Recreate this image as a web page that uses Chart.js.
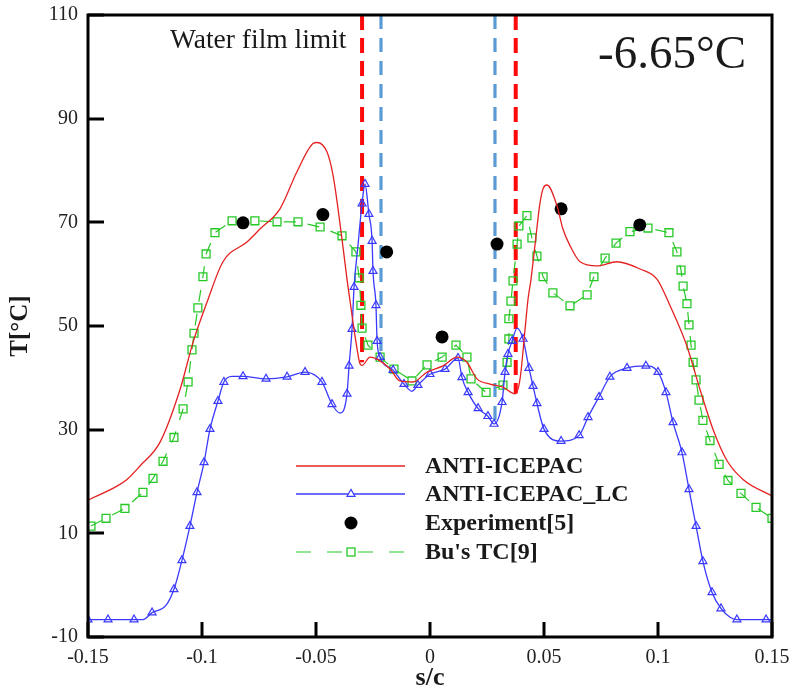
<!DOCTYPE html>
<html>
<head>
<meta charset="utf-8">
<script src="https://cdn.jsdelivr.net/npm/chart.js@4/dist/chart.umd.min.js"></script>
<style>
  html, body { margin: 0; padding: 0; background: #ffffff; }
  #wrap { width: 798px; height: 697px; }
</style>
</head>
<body>
<div id="wrap"><canvas id="c" width="798" height="697"></canvas></div>
<script>
// Axis ticks
const xTicks = [-0.15, -0.1, -0.05, 0, 0.05, 0.1, 0.15];
const xTickLabels = ['-0.15', '-0.1', '-0.05', '0', '0.05', '0.1', '0.15'];
const yTicks = [-10, 10, 30, 50, 70, 90, 110];
const yTickLabels = ['-10', '10', '30', '50', '70', '90', '110'];

// ANTI-ICEPAC
const redS = [-0.1500, -0.1373, -0.1329, -0.1272, -0.1184, -0.1096, -0.1039, -0.0978, -0.0908, -0.0803,
  -0.0746, -0.0658, -0.0583, -0.0513, -0.0496, -0.0452, -0.0425, -0.0386, -0.0364, -0.0338,
  -0.0320, -0.0307, -0.0298, -0.0263, -0.0232, -0.0175, -0.0132, -0.0075, -0.0013, 0.0057,
  0.0118, 0.0162, 0.0206, 0.0263, 0.0320, 0.0373, 0.0395, 0.0417, 0.0430, 0.0443,
  0.0461, 0.0482, 0.0496, 0.0513, 0.0557, 0.0583, 0.0614, 0.0658, 0.0732, 0.0820,
  0.0921, 0.0996, 0.1053, 0.1127, 0.1184, 0.1241, 0.1303, 0.1373, 0.1500];
const redT = [16.4, 19.1, 20.4, 23.0, 27.6, 37.8, 46.9, 54.6, 62.4, 66.2,
  68.7, 72.6, 79.8, 85.2, 85.4, 83.6, 79.0, 66.8, 59.0, 50.8,
  45.6, 42.7, 42.4, 44.0, 43.6, 41.7, 39.4, 39.2, 41.1, 42.3,
  44.0, 43.0, 39.8, 38.8, 38.2, 36.9, 39.8, 49.4, 55.2, 59.0,
  65.8, 73.6, 76.5, 77.2, 73.2, 68.7, 65.5, 62.4, 61.6, 62.4,
  61.0, 59.0, 53.9, 46.1, 37.8, 30.1, 24.0, 20.4, 17.2];

// ANTI-ICEPAC_LC (blueMark: 1 = sample drawn with a triangle)
const blueS = [-0.1500, -0.1412, -0.1298, -0.1259, -0.1219, -0.1158, -0.1123, -0.1088, -0.1053, -0.1022,
  -0.0991, -0.0965, -0.0930, -0.0904, -0.0868, -0.0820, -0.0719, -0.0627, -0.0548, -0.0474,
  -0.0430, -0.0395, -0.0364, -0.0355, -0.0342, -0.0333, -0.0316, -0.0298, -0.0285, -0.0268,
  -0.0254, -0.0250, -0.0237, -0.0232, -0.0219, -0.0162, -0.0114, -0.0079, -0.0053, 0.0000,
  0.0066, 0.0123, 0.0140, 0.0167, 0.0211, 0.0254, 0.0281, 0.0316, 0.0329, 0.0342,
  0.0360, 0.0382, 0.0408, 0.0434, 0.0452, 0.0469, 0.0500, 0.0575, 0.0654, 0.0693,
  0.0741, 0.0789, 0.0864, 0.0947, 0.1000, 0.1035, 0.1066, 0.1105, 0.1136, 0.1167,
  0.1197, 0.1237, 0.1276, 0.1316, 0.1346, 0.1474, 0.1500];
const blueT = [-6.65, -6.65, -6.65, -6.65, -5.3, -3.9, -0.8, 4.8, 11.4, 17.9,
  23.7, 30.1, 35.5, 39.2, 40.3, 40.3, 39.8, 40.2, 41.1, 39.2,
  34.9, 33.2, 36.9, 42.3, 49.4, 57.5, 65.5, 73.6, 77.4, 71.6,
  66.4, 60.6, 54.0, 47.1, 44.0, 41.5, 38.8, 37.4, 38.6, 40.7,
  41.7, 43.8, 40.1, 37.2, 34.1, 32.6, 31.1, 35.3, 41.1, 44.6,
  47.1, 49.6, 47.5, 41.9, 38.4, 35.1, 30.1, 27.8, 28.9, 32.4,
  36.3, 40.2, 41.9, 42.3, 41.1, 37.2, 31.4, 25.6, 18.5, 11.4,
  4.6, -1.4, -4.5, -6.2, -6.65, -6.65, -6.65];
const blueMark = [1, 1, 1, 0, 1, 0, 1, 1, 1, 1,
  1, 1, 1, 1, 0, 1, 1, 1, 1, 1,
  1, 0, 1, 1, 1, 1, 0, 1, 1, 1,
  1, 1, 1, 1, 1, 1, 1, 0, 1, 1,
  1, 1, 1, 1, 1, 1, 1, 1, 1, 1,
  1, 0, 1, 1, 1, 1, 1, 1, 1, 1,
  1, 1, 1, 1, 1, 1, 1, 1, 1, 1,
  1, 1, 1, 0, 1, 1, 0];

// Experiment[5]
const expS = [-0.082, -0.047, -0.019, 0.0053, 0.0294, 0.0575, 0.092];
const expT = [69.9, 71.5, 64.3, 47.9, 65.8, 72.6, 69.5];

// Bu's TC[9]
const buS = [-0.1487, -0.1421, -0.1338, -0.1259, -0.1215, -0.1171, -0.1123, -0.1083, -0.1061, -0.1044,
  -0.1035, -0.1018, -0.0996, -0.0982, -0.0943, -0.0868, -0.0768, -0.0671, -0.0579, -0.0482,
  -0.0386, -0.0325, -0.0311, -0.0303, -0.0298, -0.0272, -0.0219, -0.0158, -0.0079, -0.0013,
  0.0053, 0.0114, 0.0162, 0.0180, 0.0246, 0.0320, 0.0338, 0.0346, 0.0346, 0.0355,
  0.0364, 0.0382, 0.0390, 0.0425, 0.0447, 0.0469, 0.0496, 0.0539, 0.0614, 0.0689,
  0.0719, 0.0768, 0.0816, 0.0877, 0.0956, 0.1048, 0.1083, 0.1101, 0.1110, 0.1127,
  0.1136, 0.1145, 0.1154, 0.1167, 0.1180, 0.1197, 0.1228, 0.1268, 0.1307, 0.1364,
  0.1430, 0.1500];
const buT = [11.4, 12.9, 14.8, 17.9, 20.6, 23.9, 28.5, 34.0, 39.2, 45.4,
  48.6, 53.5, 59.5, 63.9, 68.0, 70.3, 70.3, 70.1, 70.1, 69.1,
  67.4, 64.3, 59.3, 54.0, 49.6, 46.3, 44.0, 41.7, 39.4, 42.5,
  44.0, 46.3, 44.0, 39.8, 37.2, 38.6, 43.0, 47.5, 51.4, 54.8,
  58.7, 65.8, 69.3, 71.3, 67.0, 63.5, 59.5, 56.4, 53.9, 56.0,
  59.5, 63.1, 66.0, 68.2, 68.9, 68.0, 64.3, 60.8, 57.7, 54.3,
  50.2, 46.3, 43.0, 39.6, 35.7, 31.8, 27.9, 23.3, 20.2, 17.7,
  15.0, 12.9];

// Water film limits: position, and where each marker line stops
const wallS = [-0.0298, -0.0215, 0.0285, 0.0376];
const wallTop = [110, 110, 110, 110];
const wallEnd = [43, 44, 31, 37];
const wallKind = ['red', 'blue', 'blue', 'red'];

const seriesLabels = ['ANTI-ICEPAC', 'ANTI-ICEPAC_LC', 'Experiment[5]', "Bu's TC[9]"];

const SERIF = "'Liberation Serif', 'Times New Roman', serif";
const RED = 'rgb(228,34,34)';
const BLUE = 'rgb(58,58,255)';
const GREEN = 'rgb(38,200,38)';

const pts = (xs, ys) => xs.map((x, i) => ({ x: x, y: ys[i] }));

const datasets = [
  {
    label: seriesLabels[0], data: pts(redS, redT), showLine: true,
    borderColor: RED, borderWidth: 1.3, pointRadius: 0,
    cubicInterpolationMode: 'monotone'
  },
  {
    label: seriesLabels[1], data: pts(blueS, blueT), showLine: true,
    borderColor: BLUE, borderWidth: 1.3, cubicInterpolationMode: 'monotone',
    pointStyle: 'triangle', backgroundColor: 'rgba(0,0,0,0)',
    pointBorderColor: BLUE, pointBorderWidth: 1.2,
    pointRadius: ctx => blueMark[ctx.dataIndex] ? 4.6 : 0
  },
  {
    label: seriesLabels[2], data: pts(expS, expT), showLine: false,
    pointStyle: 'circle', pointRadius: 6.5, backgroundColor: '#000', borderColor: '#000', borderWidth: 0
  },
  {
    label: seriesLabels[3], data: pts(buS, buT), showLine: true,
    borderColor: GREEN, borderWidth: 1.2, borderDash: [12, 12], tension: 0,
    pointStyle: 'rect', pointRadius: 5.6, backgroundColor: 'rgba(0,0,0,0)',
    pointBorderColor: GREEN, pointBorderWidth: 1.3
  }
];

wallS.forEach((s, i) => {
  const isRed = wallKind[i] === 'red';
  datasets.push({
    label: 'wall' + i, data: [{ x: s, y: wallTop[i] }, { x: s, y: wallEnd[i] }],
    showLine: true, pointRadius: 0, tension: 0,
    borderColor: isRed ? 'rgb(255,10,10)' : 'rgb(91,155,213)',
    borderWidth: isRed ? 4 : 3.2,
    borderDash: isRed ? [15, 8] : [14, 9],
    borderCapStyle: 'butt'
  });
});

// Frame, inward ticks, labels inside the plot and the legend block
const decorations = {
  id: 'decorations',
  afterDatasetsDraw(chart) {
    const { ctx, chartArea: a, scales } = chart;
    ctx.save();
    ctx.strokeStyle = '#000';
    ctx.lineWidth = 3;
    ctx.lineCap = 'butt';
    // inward tick marks
    xTicks.forEach(v => {
      const px = Math.round(scales.x.getPixelForValue(v));
      ctx.beginPath(); ctx.moveTo(px, a.bottom); ctx.lineTo(px, a.bottom - 15); ctx.stroke();
    });
    yTicks.forEach(v => {
      const py = Math.round(scales.y.getPixelForValue(v));
      ctx.beginPath(); ctx.moveTo(a.left, py); ctx.lineTo(a.left + 16, py); ctx.stroke();
    });
    // frame
    ctx.strokeRect(a.left, a.top, a.right - a.left, a.bottom - a.top);

    // in-plot titles
    ctx.fillStyle = '#1a1a1a';
    ctx.textBaseline = 'alphabetic';
    ctx.textAlign = 'left';
    ctx.font = '27.5px ' + SERIF;
    ctx.fillText('Water film limit', 170, 48);
    ctx.font = '47px ' + SERIF;
    ctx.fillText('-6.65\u00B0C', 598, 68);

    // legend
    const rows = [466, 494, 523, 552];
    const x0 = 296, x1 = 405, xm = 351, xt = 425;
    ctx.font = 'bold 24px ' + SERIF;
    ctx.textBaseline = 'middle';
    chart.data.datasets.slice(0, 4).forEach((ds, i) => {
      const y = rows[i];
      ctx.save();
      if (ds.showLine) {
        ctx.strokeStyle = ds.borderColor;
        ctx.lineWidth = ds.borderWidth;
        ctx.setLineDash(ds.borderDash ? [15, 16] : []);
        ctx.beginPath(); ctx.moveTo(x0, y); ctx.lineTo(x1, y); ctx.stroke();
        ctx.setLineDash([]);
      }
      if (i === 1) {
        ctx.fillStyle = '#fff';
        ctx.strokeStyle = BLUE; ctx.lineWidth = 1.2;
        Chart.helpers.drawPoint(ctx, { pointStyle: 'triangle', radius: 4.6, borderWidth: 1.2 }, xm, y);
      }
      if (i === 2) {
        ctx.fillStyle = '#000';
        ctx.beginPath(); ctx.arc(xm, y, 6.5, 0, Math.PI * 2); ctx.fill();
      }
      if (i === 3) {
        ctx.fillStyle = '#fff';
        ctx.strokeStyle = GREEN; ctx.lineWidth = 1.3;
        ctx.fillRect(xm - 4, y - 4, 8, 8);
        ctx.strokeRect(xm - 4, y - 4, 8, 8);
      }
      ctx.restore();
      ctx.fillStyle = '#1a1a1a';
      ctx.fillText(ds.label, xt, y + 1);
    });
    ctx.restore();
  }
};

new Chart(document.getElementById('c'), {
  type: 'scatter',
  data: { datasets: datasets },
  plugins: [decorations],
  options: {
    responsive: false,
    devicePixelRatio: 1,
    animation: false,
    layout: { padding: { left: 0, right: 26, top: 15, bottom: 0 } },
    plugins: { legend: { display: false }, tooltip: { enabled: false } },
    scales: {
      x: {
        type: 'linear', min: -0.15, max: 0.15,
        afterBuildTicks: s => { s.ticks = xTicks.map(v => ({ value: v })); },
        afterFit: s => { s.height = 60; s.paddingLeft = 0; s.paddingRight = 0; },
        grid: { display: false, drawTicks: false },
        border: { display: false },
        ticks: {
          padding: 9, color: '#222', maxRotation: 0, autoSkip: false,
          font: { family: SERIF, size: 20 },
          callback: (v) => { const i = xTicks.findIndex(t => Math.abs(t - v) < 1e-9); return i >= 0 ? xTickLabels[i] : ''; }
        },
        title: {
          display: true, text: 's/c', color: '#1a1a1a', padding: { top: 0, bottom: 3 },
          font: { family: SERIF, size: 26, weight: 'bold' }
        }
      },
      y: {
        type: 'linear', min: -10, max: 110,
        afterBuildTicks: s => { s.ticks = yTicks.map(v => ({ value: v })); },
        afterFit: s => { s.width = 88; s.paddingTop = 0; s.paddingBottom = 0; },
        grid: { display: false, drawTicks: false },
        border: { display: false },
        ticks: {
          padding: 10, color: '#222', autoSkip: false,
          font: { family: SERIF, size: 20 },
          callback: (v) => { const i = yTicks.indexOf(v); return i >= 0 ? yTickLabels[i] : ''; }
        },
        title: {
          display: true, text: 'T[\u00B0C]', color: '#1a1a1a', padding: { top: 6, bottom: 0 },
          font: { family: SERIF, size: 25, weight: 'bold' }
        }
      }
    }
  }
});
</script>
</body>
</html>
